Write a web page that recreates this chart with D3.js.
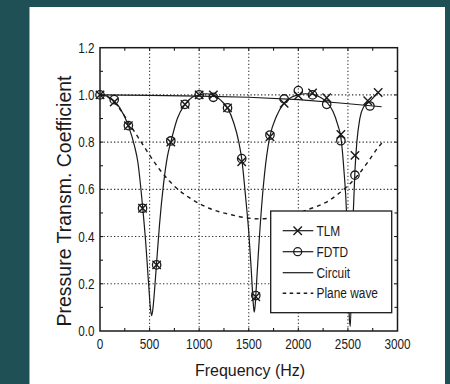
<!DOCTYPE html>
<html><head><meta charset="utf-8">
<script src="https://cdn.jsdelivr.net/npm/d3@7"></script>
<style>
html,body{margin:0;padding:0;background:#1e5056;}
svg{display:block;}
</style></head>
<body>
<svg id="chart" width="450" height="384"></svg>
<script>
// ---- data ----
const xTicks = [0, 500, 1000, 1500, 2000, 2500, 3000];
const yTicks = [0.0, 0.2, 0.4, 0.6, 0.8, 1.0, 1.2];
const xTickLabels = ["0", "500", "1000", "1500", "2000", "2500", "3000"];
const yTickLabels = ["0.0", "0.2", "0.4", "0.6", "0.8", "1.0", "1.2"];
const legendLabels = ["TLM", "FDTD", "Circuit", "Plane wave"];

const tlmFreq = [0, 143, 286, 429, 571, 714, 857, 1000, 1143, 1286, 1429, 1571, 1714, 1857, 2000, 2143, 2286, 2429, 2571, 2700, 2805];
const tlmValue = [1.0, 0.97, 0.87, 0.52, 0.28, 0.80, 0.96, 1.0, 1.0, 0.945, 0.717, 0.145, 0.823, 0.964, 0.997, 1.008, 0.988, 0.833, 0.744, 0.975, 1.01];

const fdtdFreq = [0, 143, 286, 429, 571, 714, 857, 1000, 1143, 1286, 1429, 1571, 1714, 1857, 2000, 2143, 2286, 2429, 2571, 2722];
const fdtdValue = [1.0, 0.98, 0.87, 0.52, 0.28, 0.805, 0.96, 1.0, 0.99, 0.945, 0.73, 0.15, 0.83, 0.983, 1.018, 1.0, 0.96, 0.806, 0.66, 0.953];

const circuitFreq = [0, 70, 143, 200, 286, 350, 380, 429, 460, 490, 510, 521, 535, 555, 571, 600, 640, 680, 714, 780, 857, 930, 1000, 1070, 1143, 1210, 1286, 1350, 1400, 1429, 1470, 1500, 1525, 1545, 1555, 1565, 1571, 1600, 1640, 1680, 1714, 1780, 1857, 1930, 2000, 2070, 2143, 2220, 2286, 2350, 2400, 2429, 2460, 2486, 2500, 2515, 2525, 2540, 2554, 2571, 2590, 2620, 2660, 2714, 2800];
const circuitValue = [1.0, 0.995, 0.975, 0.945, 0.87, 0.78, 0.72, 0.53, 0.38, 0.2, 0.09, 0.065, 0.1, 0.2, 0.29, 0.45, 0.62, 0.74, 0.80, 0.9, 0.96, 0.99, 1.0, 1.005, 1.0, 0.98, 0.945, 0.88, 0.8, 0.73, 0.56, 0.42, 0.26, 0.12, 0.08, 0.11, 0.15, 0.35, 0.58, 0.74, 0.825, 0.91, 0.965, 0.99, 1.0, 1.005, 1.003, 0.99, 0.97, 0.93, 0.87, 0.82, 0.68, 0.5, 0.3, 0.05, 0.02, 0.3, 0.5, 0.68, 0.8, 0.9, 0.95, 0.97, 1.01];

const envelopeFreq = [0, 500, 1000, 1500, 2000, 2420, 2840];
const envelopeValue = [1.0, 0.998, 0.995, 0.99, 0.98, 0.966, 0.95];

const planeFreq = [0, 100, 200, 300, 400, 500, 600, 700, 800, 900, 1000, 1100, 1200, 1300, 1400, 1500, 1600, 1700, 1800, 1900, 2000, 2100, 2200, 2300, 2400, 2500, 2600, 2700, 2800, 2850];
const planeValue = [1.0, 0.985, 0.94, 0.875, 0.81, 0.745, 0.685, 0.635, 0.595, 0.565, 0.54, 0.52, 0.505, 0.495, 0.485, 0.478, 0.475, 0.477, 0.482, 0.49, 0.5, 0.515, 0.53, 0.55, 0.58, 0.615, 0.66, 0.715, 0.775, 0.80];

// ---- layout ----
const svg = d3.select("#chart");
svg.append("rect").attr("x", 0).attr("y", 0).attr("width", 450).attr("height", 384).attr("fill", "#1e5056");
svg.append("rect").attr("x", 29.5).attr("y", 7).attr("width", 415.5).attr("height", 377).attr("fill", "#ffffff");

const x = d3.scaleLinear().domain([0, 3000]).range([100, 397.5]);
const y = d3.scaleLinear().domain([0, 1.2]).range([331, 47.7]);
const ink = "#1a1a1a";
const sans = "'Liberation Sans',Arial,sans-serif";
const squeeze = 0.84;

// grid
const grid = svg.append("g").attr("stroke", "#333").attr("stroke-width", 1.1).attr("stroke-dasharray", "1.3,2.2");
grid.selectAll("line.gx").data(xTicks.slice(1, -1)).join("line")
  .attr("x1", d => x(d)).attr("x2", d => x(d)).attr("y1", y(0)).attr("y2", y(1.2));
grid.selectAll("line.gy").data(yTicks.slice(1, -1)).join("line")
  .attr("x1", x(0)).attr("x2", x(3000)).attr("y1", d => y(d)).attr("y2", d => y(d));

// minor ticks (inward)
const xMinor = d3.range(250, 3000, 250);
const yMinor = d3.range(0.1, 1.2, 0.1);
const tk = svg.append("g").attr("stroke", ink).attr("stroke-width", 1.1);
xMinor.forEach(v => {
  tk.append("line").attr("x1", x(v)).attr("x2", x(v)).attr("y1", y(0)).attr("y2", y(0) - 3);
  tk.append("line").attr("x1", x(v)).attr("x2", x(v)).attr("y1", y(1.2)).attr("y2", y(1.2) + 3);
});
yMinor.forEach(v => {
  tk.append("line").attr("x1", x(0)).attr("x2", x(0) + 3).attr("y1", y(v)).attr("y2", y(v));
  tk.append("line").attr("x1", x(3000)).attr("x2", x(3000) - 3).attr("y1", y(v)).attr("y2", y(v));
});

// frame
svg.append("rect").attr("x", x(0)).attr("y", y(1.2)).attr("width", x(3000) - x(0)).attr("height", y(0) - y(1.2))
  .attr("fill", "none").attr("stroke", ink).attr("stroke-width", 1.5);

// tick labels (condensed by horizontal scale)
svg.append("g").selectAll("text").data(xTicks).join("text")
  .attr("transform", d => `translate(${x(d)},348.5) scale(${squeeze},1)`).attr("text-anchor", "middle")
  .attr("font-family", sans).attr("font-size", 14).attr("fill", ink)
  .text((d, i) => xTickLabels[i]);
svg.append("g").selectAll("text").data(yTicks).join("text")
  .attr("transform", d => `translate(94.5,${y(d) + 5}) scale(${squeeze},1)`).attr("text-anchor", "end")
  .attr("font-family", sans).attr("font-size", 14).attr("fill", ink)
  .text((d, i) => yTickLabels[i]);

// axis titles
svg.append("text").attr("x", 250).attr("y", 376).attr("text-anchor", "middle")
  .attr("font-family", sans).attr("font-size", 16).attr("fill", ink)
  .text("Frequency (Hz)");
svg.append("text").attr("transform", "translate(70.5,201) rotate(-90)").attr("text-anchor", "middle")
  .attr("font-family", sans).attr("font-size", 19.5).attr("fill", ink)
  .text("Pressure Transm. Coefficient");

// lines
const line = d3.line().x(d => x(d[0])).y(d => y(d[1]));
const zip = (a, b) => a.map((v, i) => [v, b[i]]);

const plot = svg.append("g");
plot.append("path").datum(zip(planeFreq, planeValue)).attr("d", line.curve(d3.curveMonotoneX))
  .attr("fill", "none").attr("stroke", ink).attr("stroke-width", 1.4).attr("stroke-dasharray", "4,4");
plot.append("path").datum(zip(envelopeFreq, envelopeValue)).attr("d", line.curve(d3.curveLinear))
  .attr("fill", "none").attr("stroke", ink).attr("stroke-width", 1.1);
plot.append("path").datum(zip(circuitFreq, circuitValue)).attr("d", line.curve(d3.curveMonotoneX))
  .attr("fill", "none").attr("stroke", ink).attr("stroke-width", 1.2);

// markers
function cross(g, cx, cy, s) {
  g.append("path").attr("d", `M${cx - s},${cy - s}L${cx + s},${cy + s}M${cx - s},${cy + s}L${cx + s},${cy - s}`)
    .attr("stroke", ink).attr("stroke-width", 1.4).attr("fill", "none");
}
function circ(g, cx, cy, r) {
  g.append("circle").attr("cx", cx).attr("cy", cy).attr("r", r)
    .attr("stroke", ink).attr("stroke-width", 1.3).attr("fill", "none");
}
const mk = svg.append("g");
fdtdFreq.forEach((f, i) => circ(mk, x(f), y(fdtdValue[i]), 4.2));
tlmFreq.forEach((f, i) => cross(mk, x(f), y(tlmValue[i]), 4.2));

// legend
const lg = svg.append("g");
lg.append("rect").attr("x", 270.7).attr("y", 211).attr("width", 121).attr("height", 101.7)
  .attr("fill", "#fff").attr("stroke", ink).attr("stroke-width", 1.3);
const ly = [230.7, 251.7, 272.7, 293.3];
legendLabels.forEach((lab, i) => {
  const l = lg.append("line").attr("x1", 282.7).attr("x2", 313.3).attr("y1", ly[i]).attr("y2", ly[i])
    .attr("stroke", ink).attr("stroke-width", i === 3 ? 1.4 : 1.2);
  if (i === 3) l.attr("stroke-dasharray", "3.5,3.5");
  if (i === 0) cross(lg, 297.7, ly[i], 4.2);
  if (i === 1) circ(lg, 297.7, ly[i], 4);
  lg.append("text").attr("transform", `translate(316.5,${ly[i] + 5}) scale(0.82,1)`).attr("font-family", sans)
    .attr("font-size", 14.5).attr("fill", ink).text(lab);
});
</script>
</body></html>
